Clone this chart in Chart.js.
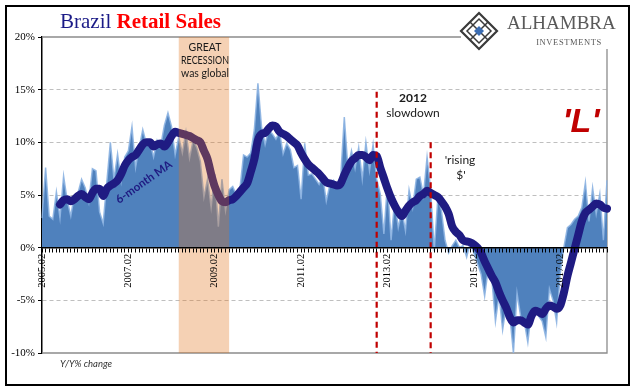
<!DOCTYPE html>
<html>
<head>
<meta charset="utf-8">
<script src="https://cdn.jsdelivr.net/npm/chart.js@4"></script>
<style>
  html, body { margin: 0; padding: 0; background: #fff; }
  #wrap { width: 641px; height: 391px; }
</style>
</head>
<body>
<div id="wrap"><canvas id="retailChart" width="641" height="391"></canvas></div>
<script>
// Brazil retail sales, Y/Y % change, monthly from 2005.02
const startYear = 2005;
const startMonth = 2;
const yTicks = [-10, -5, 0, 5, 10, 15, 20];

const retailYoY = [
  2.8, 7.6, 3.0, 2.7, 5.3, 2.8, 6.8, 4.5, 3.0, 5.0,
  5.2, 6.5, 5.7, 4.3, 7.5, 7.3, 3.4, 2.3, 6.2, 10.0,
  6.5, 8.9, 6.3, 8.6, 9.2, 11.5, 7.6, 9.5, 11.2, 9.9,
  10.0, 8.6, 10.2, 9.7, 11.6, 12.8, 11.5, 8.8,
  10.5, 9.0, 11.0, 8.5, 10.2, 9.5, 8.2, 4.8, 6.5, 3.8,
  7.0, 2.0, 6.5, 3.5, 5.5, 5.8, 5.0, 5.6, 8.8, 8.6,
  9.0, 11.2, 15.6, 11.5, 9.8, 11.2, 10.8, 10.3, 11.0, 8.9,
  9.9, 9.3, 7.6, 7.8, 4.6, 9.9, 6.9, 7.0, 6.5, 6.0,
  6.8, 4.4, 6.0,
  6.4, 6.0, 6.7, 12.4, 7.6, 9.2, 7.5, 9.5, 6.5, 10.0,
  7.3, 9.8, 6.5, 5.1, 1.3, 6.1, 0.7, 4.5, 1.9, 3.5,
  1.6, 5.5, 3.8, 6.5, 6.7, 5.0, 8.6, 5.5, -0.3, 4.8,
  3.5, 0.7, -0.5, 0.2, 0.7, 0.0, 0.2, -0.9,
  0.5, -0.5, -1.5, -2.5, -4.6, -2.0, -3.0, -7.0, -4.5, -7.8,
  -5.5, -6.5, -10.0, -4.3, -6.5, -7.0, -9.0, -6.0, -5.8, -6.5,
  -7.0, -8.5, -3.9, -5.0, -7.1, -2.5, 0.0, 1.9, 2.2, 2.7,
  3.0, 3.8, 6.2, 2.5, 5.7, 3.2, 5.1, 0.7, 6.4
];

const movingAvg6 = [
  null, null, null, null, null, 4.1, 4.5, 4.6, 4.4, 4.6,
  4.9, 5.1, 4.8, 4.6, 5.2, 5.6, 5.6, 4.9, 5.6, 5.9,
  6.1, 6.4, 7.0, 7.8, 8.3, 8.6, 8.8, 9.3, 9.8, 10.0,
  10.0, 9.6, 9.8, 9.9, 9.6, 10.0, 10.6, 11.0,
  10.9, 10.8, 10.7, 10.6, 10.4, 10.2, 10.0, 9.2, 8.4, 7.0,
  5.8, 5.0, 4.4, 4.3, 4.5, 4.6, 4.9, 5.3, 5.7, 6.1,
  7.2, 8.4, 10.2, 10.8, 10.9, 11.3, 11.6, 11.5, 11.0, 10.8,
  10.6, 10.3, 10.0, 9.7, 9.0, 8.4, 7.9, 7.6, 7.3, 7.0,
  6.6, 6.2, 6.1,
  6.0, 5.9, 6.1, 6.9, 7.6, 8.2, 8.5, 8.8, 8.8, 8.6,
  8.3, 8.8, 8.7, 7.6, 6.6, 5.6, 4.7, 4.0, 3.4, 3.0,
  3.5, 4.0, 4.3, 4.5, 4.9, 5.1, 5.4, 5.2, 5.0, 4.8,
  4.4, 3.9, 3.2, 2.0, 1.5, 1.2, 0.7, 0.6,
  0.5, 0.3, 0.0, -0.5, -1.3, -2.0, -2.7, -3.3, -4.2, -5.0,
  -5.7, -6.6, -7.1, -6.9, -6.9, -7.1, -7.3, -6.5, -6.0, -6.1,
  -6.3, -5.8, -5.5, -5.6, -5.8, -5.5, -4.3, -2.7, -1.4, -0.1,
  1.2, 2.5, 3.3, 3.6, 3.9, 4.2, 4.1, 3.8, 3.7
];

const recessionSpan = ['2008.04', '2009.06'];
const eventMonths = ['2012.11', '2014.02'];

// month labels like 2005.02
const months = [];
for (let i = 0; i < retailYoY.length; i++) {
  const t = startYear * 12 + (startMonth - 1) + i;
  months.push(Math.floor(t / 12) + '.' + String(t % 12 + 1).padStart(2, '0'));
}

const annotate = {
  id: 'annotate',
  beforeDatasetsDraw(chart) {
    const {ctx, chartArea: a} = chart;
    ctx.save();
    ctx.strokeStyle = '#8c8c8c';
    ctx.lineWidth = 1.3;
    ctx.beginPath();
    ctx.moveTo(a.left, a.top);
    ctx.lineTo(a.right, a.top);
    ctx.lineTo(a.right, a.bottom);
    ctx.lineTo(a.left, a.bottom);
    ctx.stroke();
    ctx.restore();
  },
  afterDatasetsDraw(chart) {
    const {ctx, chartArea: a, scales: {x, y}} = chart;
    ctx.save();
    // recession band
    const x0 = x.getPixelForValue(months.indexOf(recessionSpan[0]));
    const x1 = x.getPixelForValue(months.indexOf(recessionSpan[1]));
    ctx.fillStyle = 'rgba(226, 116, 26, 0.33)';
    ctx.fillRect(x0, a.top, x1 - x0, a.bottom - a.top);

    // dashed event lines
    const tops = [14.8, 10];
    ctx.strokeStyle = '#c00000';
    ctx.lineWidth = 2.2;
    ctx.setLineDash([6, 4]);
    eventMonths.forEach((m, k) => {
      const px = x.getPixelForValue(months.indexOf(m));
      ctx.beginPath();
      ctx.moveTo(px, y.getPixelForValue(tops[k]));
      ctx.lineTo(px, a.bottom);
      ctx.stroke();
    });
    ctx.restore();
  },
  afterDraw(chart) {
    const {ctx} = chart;
    ctx.save();
    ctx.textAlign = 'center';
    ctx.textBaseline = 'middle';

    // band text
    ctx.fillStyle = '#1a1a1a';
    ctx.font = '10.5px Lato';
    ctx.fillText('GREAT', 205, 48, 48);
    ctx.fillText('RECESSION', 205, 61, 48);
    ctx.fillText('was global', 205, 74, 48);

    ctx.font = 'bold 12px Lato';
    ctx.fillText('2012', 413, 98);
    ctx.font = '12px Lato';
    ctx.fillText('slowdown', 413, 113, 56);
    ctx.fillText("'rising", 460, 160);
    ctx.fillText("$'", 461, 175);

    ctx.fillStyle = '#c00000';
    ctx.font = 'italic bold 34px "Liberation Sans"';
    ctx.fillText("'L'", 581, 123);

    ctx.fillStyle = '#333';
    ctx.font = 'italic 9.5px Lato';
    ctx.fillText('Y/Y% change', 86, 364);

    // moving average label
    ctx.save();
    ctx.translate(144, 182);
    ctx.rotate(-35 * Math.PI / 180);
    ctx.fillStyle = '#1f1b82';
    ctx.font = 'bold 11.5px Lato';
    ctx.fillText('6-month MA', 0, 0, 66);
    ctx.restore();

    // title
    ctx.textAlign = 'left';
    ctx.textBaseline = 'alphabetic';
    ctx.font = '21px "Liberation Serif"';
    ctx.fillStyle = '#1b1b87';
    ctx.fillText('Brazil ', 60, 28);
    const w = ctx.measureText('Brazil ').width;
    ctx.font = 'bold 21px "Liberation Serif"';
    ctx.fillStyle = '#ff0000';
    ctx.fillText('Retail Sales', 60 + w, 28);

    // logo
    ctx.fillStyle = '#fff';
    ctx.fillRect(461, 8, 166, 41);
    const cx = 479, cy = 31, r = 18;
    ctx.strokeStyle = '#3a3a3a';
    ctx.lineWidth = 2.2;
    ctx.beginPath();
    ctx.moveTo(cx, cy - r); ctx.lineTo(cx + r, cy); ctx.lineTo(cx, cy + r); ctx.lineTo(cx - r, cy); ctx.closePath();
    ctx.stroke();
    ctx.lineWidth = 1.5;
    ctx.beginPath();
    ctx.moveTo(cx, cy - r + 6); ctx.lineTo(cx + r - 6, cy); ctx.lineTo(cx, cy + r - 6); ctx.lineTo(cx - r + 6, cy); ctx.closePath();
    ctx.moveTo(cx - r / 2, cy - r / 2); ctx.lineTo(cx + r / 2, cy + r / 2);
    ctx.moveTo(cx + r / 2, cy - r / 2); ctx.lineTo(cx - r / 2, cy + r / 2);
    ctx.stroke();
    ctx.fillStyle = '#3b6db3';
    ctx.beginPath();
    ctx.moveTo(cx, cy - 5); ctx.lineTo(cx + 5, cy); ctx.lineTo(cx, cy + 5); ctx.lineTo(cx - 5, cy); ctx.closePath();
    ctx.fill();

    ctx.fillStyle = '#595959';
    ctx.font = '19px "Liberation Serif"';
    ctx.fillText('ALHAMBRA', 507, 29);
    ctx.font = '8.5px "Liberation Serif"';
    ctx.textAlign = 'center';
    ctx.letterSpacing = '0.6px';
    ctx.fillText('INVESTMENTS', 569, 45);
    ctx.letterSpacing = '0px';

    // outer frame
    ctx.strokeStyle = '#000';
    ctx.lineWidth = 2;
    ctx.strokeRect(6, 6, 623, 379);
    ctx.restore();
  }
};

const ctx = document.getElementById('retailChart').getContext('2d');
new Chart(ctx, {
  type: 'line',
  data: {
    labels: months,
    datasets: [{
      label: 'Y/Y% change',
      data: retailYoY,
      fill: 'origin',
      backgroundColor: '#4f81bd',
      borderColor: 'rgba(141, 180, 226, 0.9)',
      borderWidth: 1.5,
      pointRadius: 0,
      tension: 0,
      order: 2
    }, {
      label: '6-month MA',
      data: movingAvg6,
      fill: false,
      borderColor: '#1f1b82',
      borderWidth: 8,
      pointRadius: 0,
      cubicInterpolationMode: 'monotone',
      borderJoinStyle: 'round',
      borderCapStyle: 'round',
      order: 1
    }]
  },
  options: {
    responsive: false,
    animation: false,
    layout: { padding: { left: 0, top: 37, right: 34, bottom: 38 } },
    plugins: {
      legend: { display: false },
      tooltip: { enabled: false }
    },
    scales: {
      x: {
        position: { y: 0 },
        offset: false,
        grid: { drawOnChartArea: false, drawTicks: true, tickLength: 4, tickColor: '#000', z: 1 },
        border: { color: '#000', width: 1.5, z: 1 },
        ticks: {
          autoSkip: false,
          minRotation: 90,
          maxRotation: 90,
          padding: 2,
          z: 1,
          color: '#000',
          font: { family: 'Liberation Serif', size: 10.5 },
          callback: (v, i) => (i % 24 === 0 ? months[i] : '')
        }
      },
      y: {
        min: -10,
        max: 20,
        afterFit: s => { s.width = 42; },
        afterBuildTicks: s => { s.ticks = yTicks.map(v => ({ value: v })); },
        grid: {
          color: c => ([-5, 5, 10, 15].includes(c.tick.value) ? '#bfbfbf' : 'rgba(0,0,0,0)'),
          tickColor: '#000',
          tickLength: 4,
          lineWidth: 1
        },
        border: { color: '#000', width: 1.5, dash: [4, 3] },
        ticks: {
          padding: 3,
          color: '#000',
          font: { family: 'Liberation Serif', size: 11 },
          callback: v => v + '%'
        }
      }
    }
  },
  plugins: [annotate]
});
</script>
</body>
</html>
